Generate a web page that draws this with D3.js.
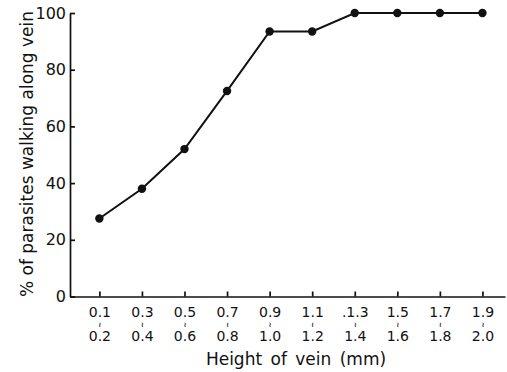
<!DOCTYPE html>
<html>
<head>
<meta charset="utf-8">
<script src="https://cdn.jsdelivr.net/npm/d3@7"></script>
<style>
  body { margin: 0; background: #fff; }
  text { font-family: "DejaVu Sans", sans-serif; fill: #111; }
</style>
</head>
<body>
<div id="chart"></div>
<script>
// Height ranges of the vein (top / bottom line of each tick label)
const rangeFrom = ["0.1", "0.3", "0.5", "0.7", "0.9", "1.1", ".1.3", "1.5", "1.7", "1.9"];
const rangeTo = ["0.2", "0.4", "0.6", "0.8", "1.0", "1.2", "1.4", "1.6", "1.8", "2.0"];

// % of parasites walking along the vein
const percentWalking = [27.5, 38, 52, 72.5, 93.5, 93.5, 100, 100, 100, 100];

const yTicks = [0, 20, 40, 60, 80, 100];

const width = 507;
const height = 372;
const margin = {top: 13, right: 2, bottom: 75, left: 70};

let svg = d3.select("#chart").append("svg")
    .attr("width", width)
    .attr("height", height);

// x positions by category index
const xScale = d3.scaleLinear()
    .domain([-0.69, rangeFrom.length - 1 + 0.53])
    .range([margin.left, width - margin.right]);

const yScale = d3.scaleLinear()
    .domain([0, 100])
    .range([height - margin.bottom - 0.5, margin.top]);

// x axis, ticks pointing up
const xAxis = d3.axisBottom(xScale)
    .tickValues(d3.range(rangeFrom.length))
    .tickSize(-5)
    .tickSizeOuter(0)
    .tickFormat("");

let gx = svg.append("g")
    .attr("class", "x-axis")
    .attr("transform", `translate(0, ${yScale(0)})`)
    .call(xAxis);

// y axis, ticks pointing right
const yAxis = d3.axisLeft(yScale)
    .tickValues(yTicks)
    .tickSize(-5)
    .tickSizeOuter(0)
    .tickPadding(4);

let gy = svg.append("g")
    .attr("class", "y-axis")
    .attr("transform", `translate(${margin.left}, 0)`)
    .call(yAxis);

svg.selectAll(".domain, .tick line")
    .attr("stroke", "#111")
    .attr("stroke-width", 1.7);

gy.selectAll("text")
    .attr("font-size", 16)
    .attr("font-family", "DejaVu Sans");

// two-line tick labels: "0.1 ~ 0.2"
let labels = gx.selectAll(".tick");
labels.append("text")
    .attr("y", 20)
    .attr("font-size", 14)
    .attr("text-anchor", "middle")
    .text((d, i) => rangeFrom[i]);
labels.append("text")
    .attr("y", 30.3)
    .attr("font-size", 7)
    .attr("font-weight", "bold")
    .attr("text-anchor", "middle")
    .text("\u2240");
labels.append("text")
    .attr("y", 44.5)
    .attr("font-size", 14)
    .attr("text-anchor", "middle")
    .text((d, i) => rangeTo[i]);

// the line
const line = d3.line()
    .x((d, i) => xScale(i))
    .y(d => yScale(d));

svg.append("path")
    .datum(percentWalking)
    .attr("fill", "none")
    .attr("stroke", "#111")
    .attr("stroke-width", 2)
    .attr("d", line);

svg.selectAll(".dot")
    .data(percentWalking)
    .enter().append("circle")
    .attr("class", "dot")
    .attr("cx", (d, i) => xScale(i))
    .attr("cy", d => yScale(d))
    .attr("r", 4.2)
    .attr("fill", "#111");

// axis titles
svg.append("text")
    .attr("x", 296)
    .attr("y", 365)
    .attr("text-anchor", "middle")
    .attr("font-size", 17)
    .attr("word-spacing", 3)
    .text("Height of vein (mm)");

svg.append("text")
    .attr("transform", "translate(33, 154) rotate(-90)")
    .attr("text-anchor", "middle")
    .attr("font-size", 17)
    .text("% of parasites walking along vein");
</script>
</body>
</html>
